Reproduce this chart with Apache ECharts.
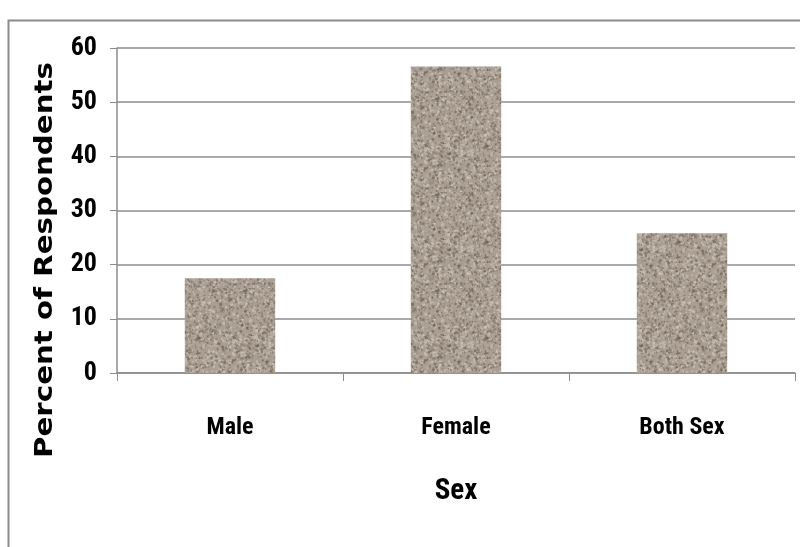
<!DOCTYPE html>
<html><head><meta charset="utf-8">
<script src="https://cdn.jsdelivr.net/npm/echarts@6/dist/echarts.min.js"></script>
<style>html,body{margin:0;padding:0;background:#fff}#c{width:800px;height:547px}</style>
</head><body><div id="c"></div>
<script>
const categories = ['Male', 'Female', 'Both Sex'];
const percentValues = [17.5, 56.6, 25.8];
const yTicks = [0, 10, 20, 30, 40, 50, 60];
const yTitle = 'Percent of Respondents';
const xTitle = 'Sex';

// granite-like texture (decorative only, seeded)
function makeTexture() {
  const cv = document.createElement('canvas');
  cv.width = 96; cv.height = 96;
  const ctx = cv.getContext('2d');
  ctx.fillStyle = '#aa9e92';
  ctx.fillRect(0, 0, 96, 96);
  let s = 12345;
  const rnd = () => { s = (s * 1103515245 + 12345) & 0x7fffffff; return s / 0x7fffffff; };
  for (let i = 0; i < 2200; i++) {
    const x = rnd() * 96, y = rnd() * 96, r = 0.5 + rnd() * 1.1;
    const t = rnd();
    let c;
    if (t < 0.3) c = 'rgba(125,112,100,0.6)';
    else if (t < 0.65) c = 'rgba(205,197,188,0.65)';
    else if (t < 0.78) c = 'rgba(90,78,68,0.5)';
    else c = 'rgba(180,168,156,0.7)';
    ctx.fillStyle = c;
    ctx.beginPath();
    ctx.ellipse(x, y, r, r * (0.6 + rnd() * 0.6), rnd() * 3.14, 0, Math.PI * 2);
    ctx.fill();
  }
  return cv;
}

const chart = echarts.init(document.getElementById('c'));
const condensed = "'Liberation Sans Narrow', 'Roboto Condensed', 'DejaVu Sans Condensed', sans-serif";
chart.setOption({
  animation: false,
  backgroundColor: '#fff',
  graphic: [{
    type: 'rect', left: 6, top: 18, shape: { width: 820, height: 600 },
    style: { fill: 'none', stroke: '#8c8c8c', lineWidth: 2 }, silent: true
  }, {
    type: 'text', x: 46, y: 260, rotation: Math.PI / 2, scaleX: 1.22, silent: true,
    style: { text: yTitle, fill: '#000', font: "bold 24px 'DejaVu Sans', sans-serif",
      textAlign: 'center', textVerticalAlign: 'middle' }
  }],
  grid: { left: 117, right: 5, top: 48, bottom: 174 },
  xAxis: {
    type: 'category', data: categories,
    name: xTitle, nameLocation: 'middle', nameGap: 104,
    nameTextStyle: { fontFamily: condensed, fontSize: 29, fontWeight: 'bold', color: '#000' },
    axisLine: { lineStyle: { color: '#8c8c8c', width: 1.5 } },
    axisTick: { show: true, length: 8, lineStyle: { color: '#8c8c8c' } },
    axisLabel: { fontFamily: condensed, fontSize: 24, fontWeight: 'bold', color: '#000', margin: 43 }
  },
  yAxis: {
    type: 'value', min: 0, max: 60, interval: 10,
    axisLine: { show: true, lineStyle: { color: '#8c8c8c', width: 1.5 } },
    axisTick: { show: true, length: 7, lineStyle: { color: '#8c8c8c' } },
    axisLabel: { fontFamily: condensed, fontSize: 26, fontWeight: 'bold', color: '#000', margin: 20,
      formatter: v => yTicks.includes(v) ? String(v) : '' },
    splitLine: { lineStyle: { color: '#8c8c8c', width: 1.5 } }
  },
  series: [{
    type: 'bar', data: percentValues, barWidth: '40%',
    itemStyle: { color: { image: makeTexture(), repeat: 'repeat' } }
  }]
});
</script></body></html>
